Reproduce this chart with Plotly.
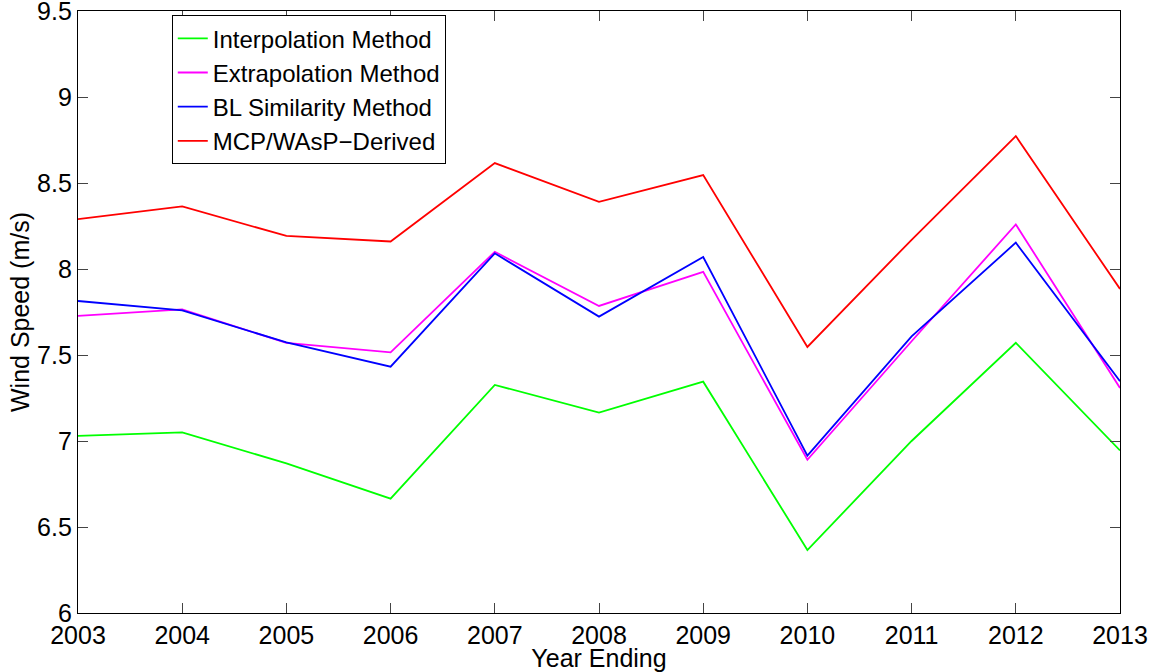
import plotly.graph_objects as go

# Annual mean wind speed estimates, year ending 2003-2013
years = [2003, 2004, 2005, 2006, 2007, 2008, 2009, 2010, 2011, 2012, 2013]
interpolation = [7.03, 7.05, 6.87, 6.665, 7.326, 7.165, 7.345, 6.366, 7.00, 7.571, 6.945]
extrapolation = [7.727, 7.765, 7.57, 7.515, 8.10, 7.785, 7.983, 6.891, 7.58, 8.259, 7.308]
bl_similarity = [7.814, 7.759, 7.573, 7.432, 8.091, 7.723, 8.07, 6.915, 7.608, 8.153, 7.347]
mcp_wasp = [8.29, 8.364, 8.192, 8.16, 8.616, 8.391, 8.546, 7.547, 8.17, 8.773, 7.884]

series_names = ["Interpolation Method", "Extrapolation Method",
                "BL Similarity Method", "MCP/WAsP\u2212Derived"]
series_colors = ["#00ff00", "#ff00ff", "#0000ff", "#ff0000"]
y_ticks = [6, 6.5, 7, 7.5, 8, 8.5, 9, 9.5]
y_tick_text = ["6", "6.5", "7", "7.5", "8", "8.5", "9", "9.5"]

FONT = "Liberation Sans, Arial, Helvetica, sans-serif"
FS = 25

fig = go.Figure()
for name, color, values in zip(series_names, series_colors,
                               [interpolation, extrapolation, bl_similarity, mcp_wasp]):
    fig.add_trace(go.Scatter(x=years, y=values, mode="lines", name=name,
                             line=dict(color=color, width=1.8)))

axis_common = dict(
    showline=True, linecolor="black", linewidth=1.3, mirror="ticks",
    ticks="inside", ticklen=10, tickwidth=1, tickcolor="#444",
    showgrid=False, zeroline=False, ticklabeloverflow="allow", automargin=False,
    tickfont=dict(family=FONT, size=FS, color="black"),
)

fig.update_layout(
    width=1160, height=672,
    margin=dict(l=78, r=40, t=11, b=59),
    paper_bgcolor="white", plot_bgcolor="white",
    font=dict(family=FONT, size=FS, color="black"),
    xaxis=dict(range=[2003, 2013], tickvals=years, ticktext=[str(y) for y in years],
               title=dict(text="Year Ending", font=dict(family=FONT, size=FS), standoff=0),
               ticklabelstandoff=0,
               **axis_common),
    yaxis=dict(range=[6, 9.5], tickvals=y_ticks, ticktext=y_tick_text,
               title=dict(text="Wind Speed (m/s)", font=dict(family=FONT, size=FS), standoff=0),
               ticklabelstandoff=0,
               **axis_common),
    legend=dict(x=0.09, y=0.993, xanchor="left", yanchor="top",
                bgcolor="white", bordercolor="black", borderwidth=1,
                font=dict(family=FONT, size=24, color="black"),
                tracegroupgap=0, itemwidth=30),
    showlegend=True,
)

fig.write_html("out.html")
